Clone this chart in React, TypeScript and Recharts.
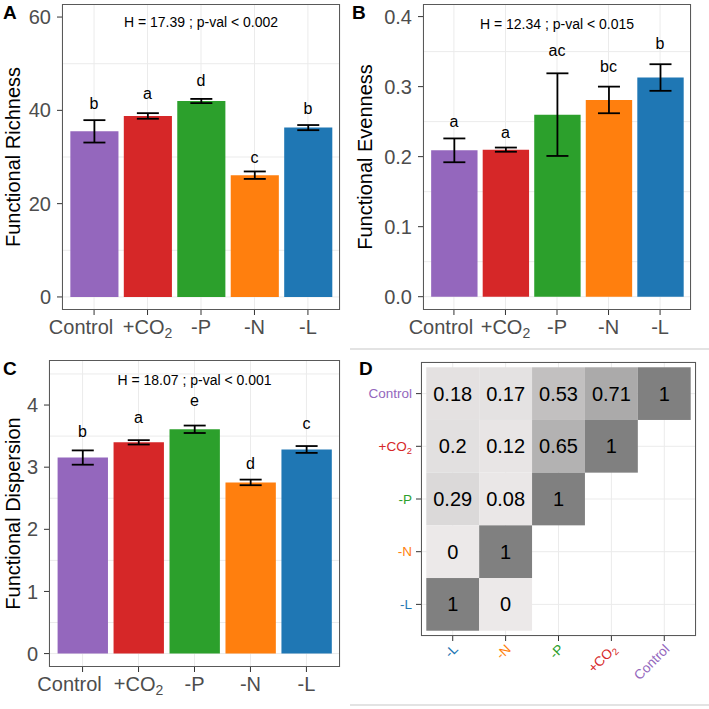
import React from 'react';
import {
  ComposedChart, Bar, Cell, ErrorBar, Line, LabelList, XAxis, YAxis, CartesianGrid,
  ReferenceDot, ScatterChart, Scatter,
} from 'recharts';

const FONT = '"Liberation Sans", Arial, Helvetica, sans-serif';

const groups = ['Control', '+CO2', '-P', '-N', '-L'];
const groupColors = ['#9467bd', '#d62728', '#2ca02c', '#ff7f0e', '#1f77b4'];

// A: functional richness
const richMean = [35.5, 38.8, 42.0, 26.1, 36.3];
const richErr = [2.4, 0.6, 0.45, 0.8, 0.55];
const richLetters = ['b', 'a', 'd', 'c', 'b'];
const richLetterY = [41.6, 43.6, 46.5, 29.9, 40.5];
const richTicks = [0, 20, 40, 60];
const richMinor = [10, 30, 50];
const richStat = 'H = 17.39 ; p-val < 0.002';
const richStatY = 58.9;

// B: functional evenness
const evenMean = [0.209, 0.21, 0.26, 0.281, 0.313];
const evenErr = [0.017, 0.003, 0.059, 0.019, 0.019];
const evenLetters = ['a', 'a', 'ac', 'bc', 'b'];
const evenLetterY = [0.25, 0.235, 0.352, 0.329, 0.362];
const evenTicks = [0, 0.1, 0.2, 0.3, 0.4];
const evenMinor = [0.05, 0.15, 0.25, 0.35];
const evenStat = 'H = 12.34 ; p-val < 0.015';
const evenStatY = 0.39;

// C: functional dispersion
const dispMean = [3.155, 3.4, 3.61, 2.755, 3.285];
const dispErr = [0.115, 0.035, 0.06, 0.045, 0.055];
const dispLetters = ['b', 'a', 'e', 'd', 'c'];
const dispLetterY = [3.58, 3.8, 4.08, 3.06, 3.71];
const dispTicks = [0, 1, 2, 3, 4];
const dispMinor = [0.5, 1.5, 2.5, 3.5, 4.5];
const dispStat = 'H = 18.07 ; p-val < 0.001';
const dispStatY = 4.41;

// D: similarity matrix (rows top to bottom, columns left to right)
const heatCols = ['-L', '-N', '-P', '+CO2', 'Control'];
const heatRows = ['Control', '+CO2', '-P', '-N', '-L'];
const heatValues: (number | null)[][] = [
  [0.18, 0.17, 0.53, 0.71, 1],
  [0.2, 0.12, 0.65, 1, null],
  [0.29, 0.08, 1, null, null],
  [0, 1, null, null, null],
  [1, 0, null, null, null],
];

const colorOf = (name: string) => groupColors[groups.indexOf(name)];

const groupLabel = (name: string) =>
  name === '+CO2'
    ? [<tspan key="a">+CO</tspan>, <tspan key="b" dy="0.3em" fontSize="0.7em">2</tspan>]
    : name;

const BarTick = (props: any) => {
  const { x, y, payload } = props;
  // the original nudges "Control" left so it clears "+CO2"
  const dx = payload.value === 'Control' ? -13 : 0;
  return (
    <text x={x + dx} y={y} dy="0.71em" textAnchor="middle" fontSize={20} fill="#4d4d4d" fontFamily={FONT}>
      {groupLabel(payload.value)}
    </text>
  );
};

const YTitle = ({ tx, ty, text }: any) => (
  <text x={tx} y={ty} transform={`rotate(-90 ${tx} ${ty})`} textAnchor="middle" fontSize={20} fill="#000" fontFamily={FONT}>
    {text}
  </text>
);

const BarPanel = (p: any) => {
  const rows = groups.map((g, i) => ({
    name: g,
    mean: p.means[i],
    err: p.errs[i],
    letter: p.letters[i],
    letterY: p.letterY[i],
  }));
  const plotW = p.width - p.yAxisWidth - p.marginRight;
  const plotH = p.height - p.marginTop - p.xAxisHeight;
  const unit = plotW / 5.2;
  return (
    <div style={{ position: 'absolute', left: p.left, top: p.top, width: p.width, height: p.height }}>
      <ComposedChart
        width={p.width}
        height={p.height}
        data={rows}
        margin={{ top: p.marginTop, right: p.marginRight, bottom: 0, left: 0 }}
        style={{ fontFamily: FONT }}
      >
        <CartesianGrid stroke="#ebebeb" horizontalValues={[...p.ticks, ...p.minor]} />
        <XAxis
          dataKey="name"
          type="category"
          interval={0}
          height={p.xAxisHeight}
          padding={{ left: unit * 0.1, right: unit * 0.1 }}
          axisLine={false}
          tickLine={{ stroke: '#333' }}
          tickSize={5}
          tickMargin={5}
          tick={<BarTick />}
        />
        <YAxis
          type="number"
          domain={p.domain}
          ticks={p.ticks}
          allowDataOverflow
          width={p.yAxisWidth}
          axisLine={false}
          tickLine={{ stroke: '#333' }}
          tickSize={5}
          tickMargin={6}
          tickFormatter={p.fmt}
          tick={{ fill: '#4d4d4d', fontSize: 20, fontFamily: FONT }}
          label={<YTitle tx={p.yLabelX} ty={p.marginTop + plotH / 2} text={p.yLabel} />}
        />
        <Bar dataKey="mean" barSize={unit * 0.9} isAnimationActive={false}>
          {rows.map((r, i) => (
            <Cell key={r.name} fill={groupColors[i]} />
          ))}
          <ErrorBar dataKey="err" width={11} stroke="#000" strokeWidth={1.8} />
        </Bar>
        <Line dataKey="letterY" stroke="none" dot={false} activeDot={false} isAnimationActive={false}>
          <LabelList dataKey="letter" position="center" fill="#000" stroke="none" fontSize={16} fontFamily={FONT} />
        </Line>
        <ReferenceDot
          x="-P"
          y={p.statY}
          r={0}
          fill="none"
          stroke="none"
          label={{ value: p.stat, position: 'center', fill: '#000', fontSize: 14, fontFamily: FONT }}
        />
      </ComposedChart>
      <div
        style={{
          position: 'absolute',
          left: p.yAxisWidth,
          top: p.marginTop,
          width: plotW,
          height: plotH,
          border: '1px solid #595959',
          boxSizing: 'border-box',
          pointerEvents: 'none',
        }}
      />
    </div>
  );
};

const tileFill = (v: number) => {
  const f = Math.pow(v, 1.5);
  const mix = (a: number, b: number) => Math.round(a + (b - a) * f);
  return `rgb(${mix(236, 128)},${mix(233, 128)},${mix(233, 128)})`;
};

const HeatXTick = (props: any) => {
  const { x, y, payload } = props;
  const name = heatCols[payload.value - 1];
  const ax = x + 6;
  const ay = y + 7;
  return (
    <text x={ax} y={ay} transform={`rotate(-45 ${ax} ${ay})`} textAnchor="end" fontSize={13.5} fill={colorOf(name)} fontFamily={FONT}>
      {groupLabel(name)}
    </text>
  );
};

const HeatYTick = (props: any) => {
  const { x, y, payload } = props;
  const name = heatRows[5 - payload.value];
  return (
    <text x={x} y={y} dy="0.355em" textAnchor="end" fontSize={13.5} fill={colorOf(name)} fontFamily={FONT}>
      {groupLabel(name)}
    </text>
  );
};

const HeatPanel = () => {
  const W = 350;
  const H = 350;
  const yw = 71;
  const mr = 4;
  const mt = 6;
  const xh = 70;
  const plotW = W - yw - mr;
  const plotH = H - mt - xh;
  const tw = plotW / 5.2;
  const th = plotH / 5.2;
  const points: { x: number; y: number; v: number }[] = [];
  heatValues.forEach((row, r) =>
    row.forEach((v, c) => {
      if (v !== null) points.push({ x: c + 1, y: 5 - r, v });
    })
  );
  const ticks = [1, 2, 3, 4, 5];
  return (
    <div style={{ position: 'absolute', left: 350, top: 356, width: W, height: H }}>
      <ScatterChart width={W} height={H} margin={{ top: mt, right: mr, bottom: 0, left: 0 }} style={{ fontFamily: FONT }}>
        <CartesianGrid stroke="#ebebeb" />
        <XAxis
          dataKey="x"
          type="number"
          domain={[0.4, 5.6]}
          ticks={ticks}
          allowDataOverflow
          height={xh}
          axisLine={false}
          tickLine={{ stroke: '#333' }}
          tickSize={5}
          tickMargin={2}
          tick={<HeatXTick />}
        />
        <YAxis
          dataKey="y"
          type="number"
          domain={[0.4, 5.6]}
          ticks={ticks}
          allowDataOverflow
          width={yw}
          axisLine={false}
          tickLine={{ stroke: '#333' }}
          tickSize={5}
          tickMargin={4}
          tick={<HeatYTick />}
        />
        <Scatter
          data={points}
          isAnimationActive={false}
          shape={(s: any) => (
            <g>
              <rect x={s.cx - tw / 2} y={s.cy - th / 2} width={tw} height={th} fill={tileFill(s.payload.v)} />
              <text x={s.cx} y={s.cy} dy="0.355em" textAnchor="middle" fontSize={20} fill="#000" fontFamily={FONT}>
                {String(s.payload.v)}
              </text>
            </g>
          )}
        />
      </ScatterChart>
      <div
        style={{
          position: 'absolute',
          left: yw,
          top: mt,
          width: plotW,
          height: plotH,
          border: '1px solid #595959',
          boxSizing: 'border-box',
          pointerEvents: 'none',
        }}
      />
    </div>
  );
};

export default function App() {
  return (
    <div style={{ position: 'absolute', left: 0, top: 0, width: 709, height: 709, background: '#fff', overflow: 'hidden', fontFamily: FONT }}>
      <BarPanel
        left={0} top={0} width={345} height={345}
        yAxisWidth={62} marginRight={5} marginTop={4} xAxisHeight={35}
        means={richMean} errs={richErr} letters={richLetters} letterY={richLetterY}
        domain={[-2.8, 62.8]} ticks={richTicks} minor={richMinor}
        stat={richStat} statY={richStatY}
        yLabel="Functional Richness" yLabelX={19.7}
      />
      <BarPanel
        left={350} top={0} width={345} height={345}
        yAxisWidth={73} marginRight={4} marginTop={4} xAxisHeight={35}
        means={evenMean} errs={evenErr} letters={evenLetters} letterY={evenLetterY}
        domain={[-0.019, 0.418]} ticks={evenTicks} minor={evenMinor}
        fmt={(v: number) => v.toFixed(1)}
        stat={evenStat} statY={evenStatY}
        yLabel="Functional Evenness" yLabelX={21.5}
      />
      <BarPanel
        left={0} top={356} width={345} height={345}
        yAxisWidth={49} marginRight={5} marginTop={4} xAxisHeight={34}
        means={dispMean} errs={dispErr} letters={dispLetters} letterY={dispLetterY}
        domain={[-0.216, 4.725]} ticks={dispTicks} minor={dispMinor}
        stat={dispStat} statY={dispStatY}
        yLabel="Functional Dispersion" yLabelX={19.7}
      />
      <HeatPanel />
      <svg width={709} height={709} style={{ position: 'absolute', left: 0, top: 0, pointerEvents: 'none' }}>
        <line x1={350} y1={349} x2={709} y2={349} stroke="#e3e3e3" strokeWidth={2} />
        <line x1={350} y1={705} x2={709} y2={705} stroke="#e3e3e3" strokeWidth={2} />
        <g fontFamily={FONT} fontWeight="bold" fontSize={19} fill="#000">
          <text x={3} y={18.5}>A</text>
          <text x={352} y={18.5}>B</text>
          <text x={3} y={375}>C</text>
          <text x={359} y={375}>D</text>
        </g>
      </svg>
    </div>
  );
}
